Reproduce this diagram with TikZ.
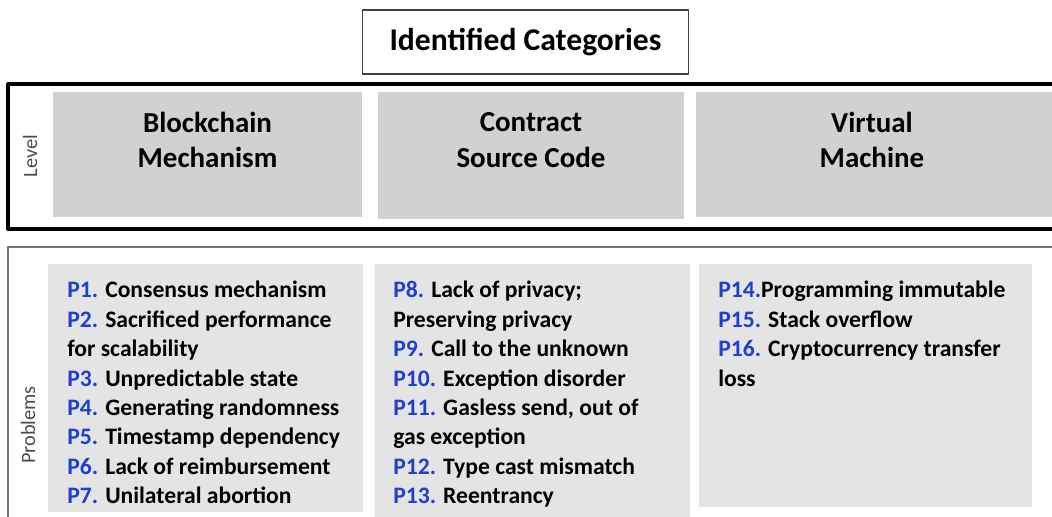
\documentclass[tikz,border=0pt]{standalone}
\usepackage{fontspec}
\setmainfont{Carlito}
\usepackage{xcolor}
\usetikzlibrary{positioning}

\definecolor{pblue}{HTML}{1F3FD0}
\definecolor{levelgrey}{HTML}{D1D1D1}
\definecolor{probgrey}{HTML}{E4E4E4}
\newcommand{\pnum}[1]{\textcolor{pblue}{#1}}

\begin{document}
\begin{tikzpicture}[
				x=0.025cm,y=-0.025cm,
				line cap=round,line join=round,
				cathead/.style={align=center, font=\fontsize{20.6}{25.5}\selectfont\bfseries, inner sep=0pt},
				problist/.style={align=left, anchor=north west, font=\fontsize{16.8}{20.9}\selectfont\bfseries, inner sep=0pt},
				sidelabel/.style={rotate=90, text=black!70, font=\fontsize{14.5}{16}\selectfont, inner sep=0pt}
				]
				% ---- frame (pixel grid of the reference)
				\useasboundingbox (0,0) rectangle (1052,516);
				\clip (0,0) rectangle (1052,516);
				\fill[white] (0,0) rectangle (1052,516);
				
				% title
				\node[draw=black!75, line width=1pt, minimum width=8.15cm, minimum height=1.6cm,
				font=\fontsize{22.5}{26}\selectfont\bfseries] (title) at (525.5,42) {Identified Categories};
				
				% ---- level row
				\draw[black, line width=2.2pt] (8,84) rectangle (1060,229);
				\fill[levelgrey] (53,92) rectangle (362,217);
				\fill[levelgrey] (378,92) rectangle (684,219);
				\fill[levelgrey] (696,92) rectangle (1060,217);
				\node[sidelabel] (level) at (30,156) {Level};
				\node[cathead] (catA) at (207.5,140) {Blockchain\\Mechanism};
				\node[cathead] (catB) at (531,140) {Contract\\Source Code};
				\node[cathead] (catC) at (872,140) {Virtual\\Machine};
				
				% ---- problems row
				\draw[black!55, line width=1.1pt] (8,247) rectangle (1060,530);
				\fill[probgrey] (48,264) rectangle (363,512);
				\fill[probgrey] (375,264) rectangle (690,520);
				\fill[probgrey] (699,264) rectangle (1032,507);
				\node[sidelabel] (problems) at (28,425) {Problems};
				
				\node[problist] (probA) at (67,281) {%
					\pnum{P1.} Consensus mechanism\\
					\pnum{P2.} Sacrificed performance\\
					for scalability\\
					\pnum{P3.} Unpredictable state\\
					\pnum{P4.} Generating randomness\\
					\pnum{P5.} Timestamp dependency\\
					\pnum{P6.} Lack of reimbursement\\
					\pnum{P7.} Unilateral abortion};
				\node[problist] (probB) at (393,281) {%
					\pnum{P8.} Lack of privacy;\\
					Preserving privacy\\
					\pnum{P9.} Call to the unknown\\
					\pnum{P10.} Exception disorder\\
					\pnum{P11.} Gasless send, out of\\
					gas exception\\
					\pnum{P12.} Type cast mismatch\\
					\pnum{P13.} Reentrancy};
				\node[problist] (probC) at (718,281) {%
					\pnum{P14.}Programming immutable\\
					\pnum{P15.} Stack overflow\\
					\pnum{P16.} Cryptocurrency transfer\\
					loss};
			\end{tikzpicture}
\end{document}
